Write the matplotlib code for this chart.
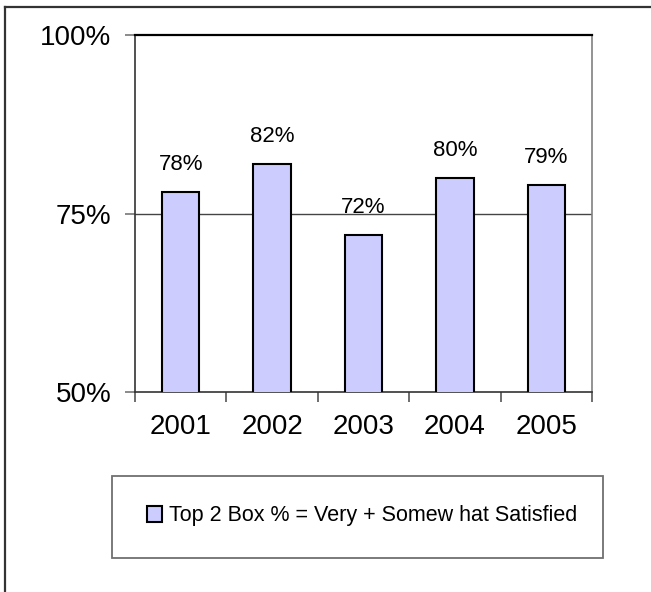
import matplotlib
matplotlib.use("Agg")
import matplotlib.pyplot as plt
from matplotlib.patches import Rectangle
from matplotlib.lines import Line2D
from matplotlib.ticker import FixedLocator

plt.rcParams['font.family'] = ['Liberation Sans', 'DejaVu Sans']

years = ["2001", "2002", "2003", "2004", "2005"]
values = [0.78, 0.82, 0.72, 0.80, 0.79]
value_labels = ["78%", "82%", "72%", "80%", "79%"]
y_ticks = [0.50, 0.75, 1.00]
y_tick_labels = ["50%", "75%", "100%"]
legend_label = "Top 2 Box % = Very + Somew hat Satisfied"

W, H = 651, 592
fig = plt.figure(figsize=(W / 100, H / 100), dpi=100)

def fx(px):
    return px / W

def fy(py):
    return 1 - py / H

# outer border (top and left edges visible)
fig.add_artist(Line2D([fx(5), fx(5)], [fy(7), 0], transform=fig.transFigure,
                      color="#333333", lw=1.6))
fig.add_artist(Line2D([fx(5), 1], [fy(7), fy(7)], transform=fig.transFigure,
                      color="#333333", lw=1.6))

ax = fig.add_axes([fx(135), fy(392), fx(592) - fx(135), fy(35) - fy(392)])
x = list(range(len(years)))
bars = ax.bar(x, values, width=0.41, color="#CCCCFF", edgecolor="black",
              linewidth=1.5, label=legend_label, zorder=3)

for xi, v, lab in zip(x, values, value_labels):
    ax.annotate(lab, (xi, v), xytext=(0, 12), textcoords="offset points",
                ha="center", va="bottom", fontsize=16, color="black")

ax.set_xlim(-0.5, len(years) - 0.5)
ax.set_ylim(0.5, 1.0)
ax.set_yticks(y_ticks)
ax.set_yticklabels(y_tick_labels, fontsize=20)
ax.set_xticks(x)
ax.set_xticklabels(years, fontsize=20)
ax.xaxis.set_minor_locator(FixedLocator([i - 0.5 for i in range(len(years) + 1)]))
ax.tick_params(axis="x", which="major", length=0, pad=16)
ax.tick_params(axis="x", which="minor", length=7, width=1.2, color="#555555", direction="out")
ax.tick_params(axis="y", which="major", length=7, width=1.2, color="#777777", direction="out", pad=10)

ax.axhline(0.75, color="#444444", lw=1.0, zorder=1)

ax.spines["top"].set_color("black")
ax.spines["top"].set_linewidth(1.6)
ax.spines["right"].set_color("#808080")
ax.spines["right"].set_linewidth(1.2)
ax.spines["left"].set_color("#333333")
ax.spines["left"].set_linewidth(1.2)
ax.spines["bottom"].set_color("#333333")
ax.spines["bottom"].set_linewidth(1.2)

# legend box
fig.add_artist(Rectangle((fx(112), fy(558)), fx(603) - fx(112), fy(476) - fy(558),
                         transform=fig.transFigure, facecolor="white",
                         edgecolor="#707070", lw=1.3))
leg = fig.legend(handles=[bars], labels=[legend_label], loc="center",
                 bbox_to_anchor=(fx(362), fy(516)), frameon=False, fontsize=15.5,
                 handlelength=0.7, handleheight=0.7, handletextpad=0.3)

fig.savefig("out.png", dpi=100)
